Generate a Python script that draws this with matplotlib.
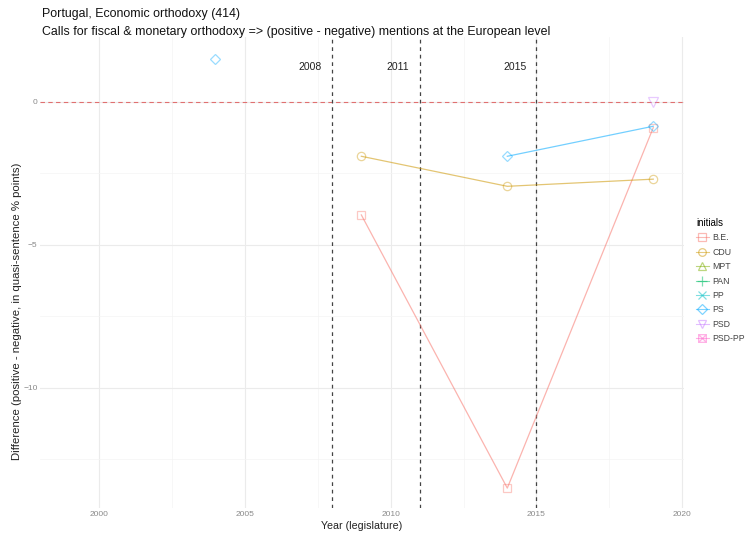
import numpy as np
import matplotlib
matplotlib.use("Agg")
import matplotlib.pyplot as plt
from matplotlib.path import Path
from matplotlib.lines import Line2D

plt.rcParams['font.family'] = ['Liberation Sans', 'DejaVu Sans']

# data
years = [2004, 2009, 2014, 2019]
parties = ['B.E.', 'CDU', 'MPT', 'PAN', 'PP', 'PS', 'PSD', 'PSD-PP']
nan = np.nan
values = {
    'B.E.':   [nan, -3.95, -13.5, -0.9],
    'CDU':    [nan, -1.9, -2.95, -2.7],
    'MPT':    [nan, nan, nan, nan],
    'PAN':    [nan, nan, nan, nan],
    'PP':     [nan, nan, nan, nan],
    'PS':     [1.5, nan, -1.9, -0.85],
    'PSD':    [nan, nan, nan, 0.0],
    'PSD-PP': [nan, nan, nan, nan],
}
events = [2008, 2011, 2015]

colors = ['#F8766D', '#CD9600', '#7CAE00', '#00BE67',
          '#00BFC4', '#00A9FF', '#C77CFF', '#FF61CC']

# square with a cross inside (ggplot shape 7)
boxx = Path([(-1, -1), (1, -1), (1, 1), (-1, 1), (-1, -1),
             (-1, -1), (1, 1), (-1, 1), (1, -1)],
            [Path.MOVETO, Path.LINETO, Path.LINETO, Path.LINETO, Path.CLOSEPOLY,
             Path.MOVETO, Path.LINETO, Path.MOVETO, Path.LINETO])
markers = ['s', 'o', '^', '+', 'x', 'D', 'v', boxx]
msizes = [6, 6, 6.5, 7, 6, 5.5, 6.5, 6]

fig = plt.figure(figsize=(7.45, 5.36), dpi=100)
ax = fig.add_axes([0.054, 0.052, 0.864, 0.879])

ax.set_xlim(1998, 2020.05)
ax.set_ylim(-14.2, 2.27)

# grid (theme_minimal style)
ax.set_xticks([2000, 2005, 2010, 2015, 2020])
ax.set_xticks([2002.5, 2007.5, 2012.5, 2017.5], minor=True)
ax.set_yticks([-10, -5, 0])
ax.set_yticks([-12.5, -7.5, -2.5], minor=True)
ax.grid(which='major', color='#EBEBEB', lw=0.8)
ax.grid(which='minor', color='#F4F4F4', lw=0.5)
ax.set_axisbelow(True)
for s in ax.spines.values():
    s.set_visible(False)
ax.tick_params(which='both', length=0, labelsize=6, labelcolor='#8A8A8A', pad=2)

ax.axhline(0, color='#E07070', ls=(0, (4, 3)), lw=0.8)
for e in events:
    ax.axvline(e, color='#444444', ls=(0, (3, 3)), lw=0.9)
    ax.text(e - 0.35, 1.22, str(e), ha='right', va='center', fontsize=7.5, color='#222222')

handles = []
for p, c, m, ms in zip(parties, colors, markers, msizes):
    y = values[p]
    ax.plot(years, y, color=c, alpha=0.55, lw=0.9)
    ax.plot(years, y, ls='none', marker=m, ms=ms, mfc='none', mec=c, mew=0.9, alpha=0.4)
    handles.append(Line2D([], [], color=c, lw=0.8, alpha=0.5, marker=m, ms=ms - 0.5,
                          mfc='none', mec=c, mew=0.9, label=p))

ax.set_xlabel('Year (legislature)', fontsize=7.7, color='#222222')
ax.xaxis.set_label_coords(0.5, -0.028)
ax.set_ylabel('Difference (positive - negative, in quasi-sentence % points)',
              fontsize=8.2, color='#222222')
ax.yaxis.set_label_coords(-0.028, 0.418)

fig.text(0.056, 0.973, 'Portugal, Economic orthodoxy (414)', fontsize=8.9, color='#111111', va='center')
fig.text(0.056, 0.94, 'Calls for fiscal & monetary orthodoxy => (positive - negative) mentions at the European level',
         fontsize=8.9, color='#111111', va='center')

leg = fig.legend(handles=handles, title='initials', loc='upper left',
                 bbox_to_anchor=(0.93, 0.6), frameon=False, fontsize=6.3,
                 title_fontsize=7, handlelength=1.4, handletextpad=0.4,
                 labelspacing=0.62, borderaxespad=0)
leg._legend_box.align = 'left'
for t in leg.get_texts():
    t.set_color('#444444')

fig.savefig('out.png', dpi=100)
